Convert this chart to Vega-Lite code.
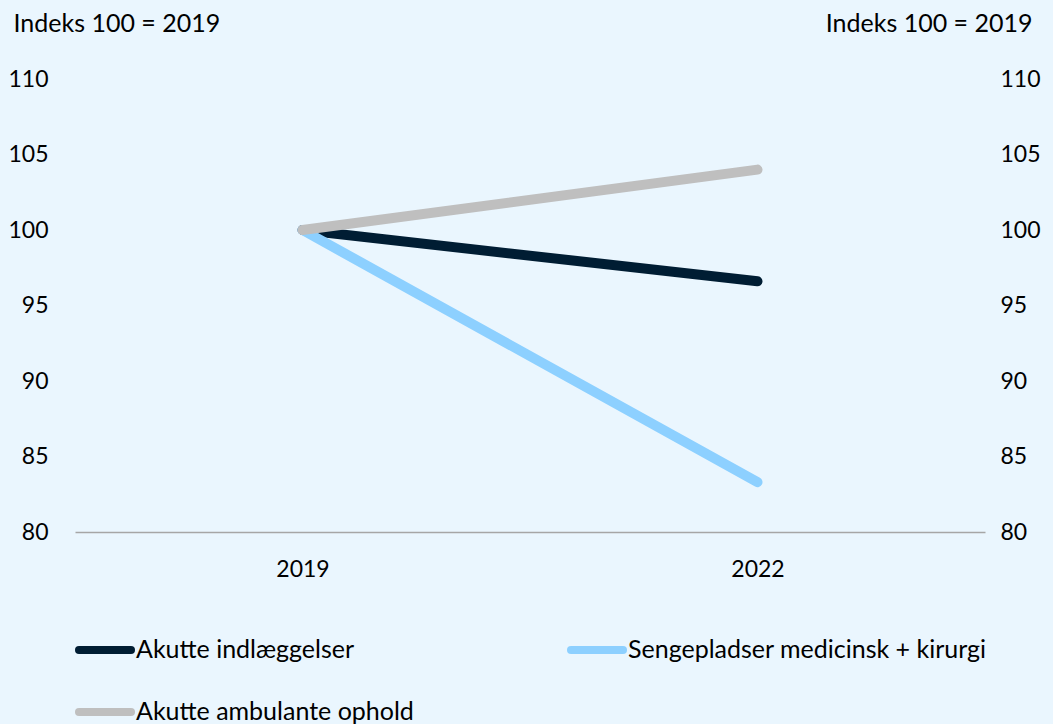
{
  "$schema": "https://vega.github.io/schema/vega-lite/v6.json",
  "width": 910,
  "height": 453,
  "autosize": {"type": "none"},
  "padding": {"left": 75, "top": 79, "right": 68, "bottom": 192},
  "background": "#EAF6FE",
  "config": {
    "view": {"stroke": null},
    "font": "Lato",
    "axis": {"labelFont": "Lato", "titleFont": "Lato", "labelColor": "#000000", "titleColor": "#000000"}
  },
  "data": {
    "values": [
      {"year": "2019", "series": "Akutte indlæggelser", "value": 100},
      {"year": "2022", "series": "Akutte indlæggelser", "value": 96.6},
      {"year": "2019", "series": "Sengepladser medicinsk + kirurgi", "value": 100},
      {"year": "2022", "series": "Sengepladser medicinsk + kirurgi", "value": 83.3},
      {"year": "2019", "series": "Akutte ambulante ophold", "value": 100},
      {"year": "2022", "series": "Akutte ambulante ophold", "value": 104.0}
    ]
  },
  "layer": [
    {
      "mark": {"type": "line", "strokeWidth": 10, "strokeCap": "round", "strokeJoin": "round"},
      "encoding": {
        "x": {
          "field": "year", "type": "ordinal",
          "scale": {"type": "point", "padding": 0.5},
          "axis": {"title": null, "labelAngle": 0, "ticks": false, "domainColor": "#A6A6A6", "domainWidth": 1.5, "labelFontSize": 23, "labelPadding": 26}
        },
        "y": {
          "field": "value", "type": "quantitative",
          "scale": {"domain": [80, 110], "nice": false, "zero": false},
          "axis": {
            "values": [80, 85, 90, 95, 100, 105, 110],
            "grid": false, "ticks": false, "domain": false,
            "labelFontSize": 23, "labelPadding": 27,
            "title": "Indeks 100 = 2019", "titleAngle": 0, "titleFontSize": 25, "titleFontWeight": "normal",
            "titleAlign": "left", "titleBaseline": "middle", "titleX": -62, "titleY": -56
          }
        },
        "color": {
          "field": "series", "type": "nominal",
          "scale": {
            "domain": ["Akutte indlæggelser", "Sengepladser medicinsk + kirurgi", "Akutte ambulante ophold"],
            "range": ["#001D33", "#8DD0FF", "#BFBFBF"]
          },
          "legend": {
            "title": null, "orient": "none", "legendX": 0, "legendY": 541,
            "direction": "horizontal", "columns": 2,
            "symbolType": "stroke", "symbolSize": 2704, "symbolStrokeWidth": 8,
            "labelFontSize": 25, "labelFont": "Lato", "labelColor": "#000000", "labelOffset": 1,
            "columnPadding": 141, "rowPadding": 16, "labelLimit": 500,
            "encode": {"symbols": {"update": {"strokeCap": {"value": "round"}}}}
          }
        },
        "order": {"field": "series"}
      }
    },
    {
      "mark": {"type": "rule", "color": "#A6A6A6", "strokeWidth": 1.5, "opacity": 0},
      "encoding": {
        "y": {
          "datum": 80, "type": "quantitative",
          "axis": {
            "orient": "right",
            "values": [80, 85, 90, 95, 100, 105, 110],
            "grid": false, "ticks": false, "domain": false,
            "labelFontSize": 23, "labelPadding": 15,
            "title": "Indeks 100 = 2019", "titleAngle": 0, "titleFontSize": 25, "titleFontWeight": "normal",
            "titleAlign": "right", "titleBaseline": "middle", "titleX": 47, "titleY": -56
          }
        }
      }
    }
  ],
  "resolve": {"scale": {"y": "shared"}, "axis": {"y": "independent"}}
}
